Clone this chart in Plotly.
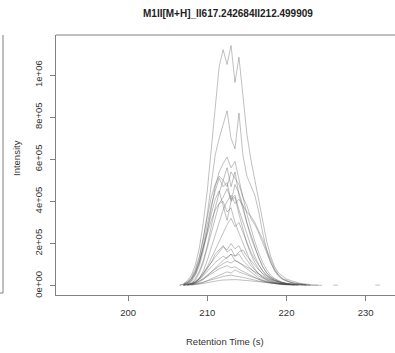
import plotly.graph_objects as go

# ---- data (intensities in thousands) ----
rt = [206.0, 206.5, 207.0, 207.5, 208.0, 208.5, 209.0, 209.5, 210.0, 210.5,
      211.0, 211.5, 212.0, 212.5, 213.0, 213.5, 214.0, 214.5, 215.0, 215.5,
      216.0, 216.5, 217.0, 217.5, 218.0, 218.5, 219.0, 219.5, 220.0, 220.5,
      221.0, 221.5, 222.0, 222.5, 223.0, 223.5, 224.0, 224.5, 225.0]

N = None
s01 = [N, N, 10, 25, 50, 100, 180, 300, 450, 640, 850, 1040, 1120, 1050, 1140, 965, 1085, 900, 720, 600, 500, 400, 300, 210, 140, 90, 60, 45, 32, 25, 18, 14, 10, 8, 6, N, N, N, N]
s02 = [N, N, 5, 15, 35, 70, 130, 220, 340, 480, 620, 700, 760, 830, 700, 650, 820, 620, 520, 470, 430, 350, 250, 170, 110, 70, 45, 30, 22, 16, 12, 9, 7, 5, N, N, N, N, N]
s03 = [N, 3, 8, 20, 40, 80, 140, 230, 330, 420, 480, 520, 500, 560, 470, 540, 430, 360, 290, 230, 180, 130, 90, 60, 40, 28, 20, 14, 10, 7, 5, N, N, N, N, N, N, N, N]
s04 = [N, N, N, 8, 18, 35, 70, 120, 190, 280, 370, 440, 500, 470, 540, 510, 480, 420, 380, 320, 290, 250, 200, 150, 110, 75, 50, 35, 25, 18, 13, 9, 6, 4, N, N, N, N, N]
s05 = [N, N, 4, 10, 25, 55, 110, 190, 290, 380, 450, 510, 470, 490, 400, 420, 340, 270, 200, 150, 110, 80, 55, 38, 26, 18, 12, 8, 5, N, N, N, N, N, N, N, N, N, N]
s06 = [N, N, 6, 14, 30, 60, 110, 180, 260, 340, 410, 450, 380, 310, 400, 480, 440, 380, 300, 240, 180, 130, 90, 62, 42, 30, 21, 15, 11, 8, 6, 4, N, N, N, N, N, N, N]
s07 = [N, N, N, 5, 12, 28, 60, 110, 180, 260, 330, 390, 420, 460, 410, 430, 360, 300, 240, 190, 140, 100, 70, 48, 33, 22, 15, 10, 7, 5, N, N, N, N, N, N, N, N, N]
s08 = [N, N, N, N, 6, 15, 35, 70, 120, 180, 250, 310, 360, 400, 430, 390, 410, 380, 350, 330, 300, 260, 220, 170, 120, 80, 50, 32, 22, 15, 10, 7, 5, N, N, N, N, N, N]
s09 = [N, 2, 6, 15, 32, 65, 115, 180, 250, 310, 360, 390, 400, 350, 370, 300, 250, 200, 150, 110, 80, 56, 40, 28, 20, 14, 10, 7, 5, N, N, N, N, N, N, N, N, N, N]
s10 = [N, N, 3, 6, 12, 22, 38, 60, 85, 110, 140, 160, 185, 170, 200, 175, 190, 150, 120, 95, 75, 55, 40, 30, 22, 16, 12, 9, 7, 5, 4, N, N, N, N, N, N, N, N]
s11 = [N, N, N, 4, 9, 18, 32, 52, 80, 110, 150, 170, 190, 160, 175, 140, 150, 120, 100, 80, 62, 46, 34, 25, 18, 13, 10, 8, 6, 5, 4, 3, N, N, N, N, N, N, N]
s12 = [N, N, N, N, 5, 10, 18, 30, 45, 65, 85, 105, 120, 135, 150, 140, 160, 170, 140, 120, 95, 75, 58, 44, 33, 25, 19, 14, 10, 8, 6, 5, 4, 3, N, N, N, N, N]
s13 = [N, N, 2, 5, 10, 18, 30, 48, 70, 92, 110, 125, 140, 130, 150, 120, 110, 95, 80, 62, 48, 36, 27, 20, 15, 11, 8, 6, 5, 4, N, N, N, N, N, N, N, N, N]
s14 = [N, N, N, 3, 7, 13, 22, 35, 50, 66, 80, 95, 105, 115, 108, 120, 110, 100, 90, 78, 66, 55, 45, 36, 28, 22, 17, 13, 10, 8, 7, 6, 5, 4, 4, 3, 3, N, N]
s15 = [N, N, 2, 4, 8, 14, 22, 32, 45, 58, 70, 80, 88, 95, 85, 90, 78, 68, 58, 48, 38, 30, 23, 18, 14, 11, 9, 7, 6, 5, 4, N, N, N, N, N, N, N, N]
s16 = [N, N, N, N, 3, 6, 10, 16, 24, 33, 42, 50, 58, 66, 60, 75, 65, 58, 50, 42, 35, 28, 22, 17, 13, 10, 8, 6, 5, 4, 3, 3, N, N, N, N, N, N, N]
s17 = [N, N, 1, 3, 5, 8, 12, 17, 23, 29, 35, 40, 44, 48, 50, 46, 44, 40, 35, 30, 26, 22, 18, 15, 12, 10, 8, 7, 6, 5, 4, 4, 3, 3, 2, N, N, N, N]
s18 = [N, N, N, 2, 3, 5, 8, 11, 15, 19, 22, 25, 27, 28, 30, 29, 28, 26, 24, 22, 20, 18, 16, 14, 12, 10, 9, 8, 7, 6, 5, 5, 4, 4, 3, 3, 2, 2, N]
s19 = [N, N, N, 4, 9, 18, 34, 58, 90, 130, 170, 210, 250, 290, 320, 280, 300, 250, 200, 160, 125, 95, 70, 50, 36, 26, 18, 13, 9, 6, 4, N, N, N, N, N, N, N, N]
s20 = [N, N, 4, 10, 24, 50, 95, 165, 260, 370, 470, 540, 580, 610, 560, 590, 500, 420, 340, 270, 210, 155, 110, 75, 50, 34, 23, 16, 11, 8, 5, N, N, N, N, N, N, N, N]

frag1_rt = [225.9, 226.2, 226.5]
frag1_k = [3, 4, 3]
frag2_rt = [231.2, 231.5, 231.8]
frag2_k = [3, 4, 3]

series = [s01, s02, s03, s04, s05, s06, s07, s08, s09, s10,
          s11, s12, s13, s14, s15, s16, s17, s18, s19, s20]

y_tickvals = [0, 200000, 400000, 600000, 800000, 1000000]
y_ticktext = ["0e+00", "2e+05", "4e+05", "6e+05", "8e+05", "1e+06"]
x_tickvals = [200, 210, 220, 230]

title_text = "M1II[M+H]_II617.242684II212.499909"

# ---- figure ----
line_style = dict(color="rgba(70,70,70,0.38)", width=0.9)
fig = go.Figure()
for s in series:
    fig.add_trace(go.Scatter(x=rt, y=[None if v is None else v * 1000 for v in s],
                             mode="lines", line=line_style, connectgaps=False,
                             hoverinfo="skip", showlegend=False))
for fx, fy in [(frag1_rt, frag1_k), (frag2_rt, frag2_k)]:
    fig.add_trace(go.Scatter(x=fx, y=[v * 1000 for v in fy], mode="lines",
                             line=line_style, hoverinfo="skip", showlegend=False))

W, H = 395, 353
L, R, T, B = 56, 0, 35, 58
pw = W - L - R
ph = H - T - B

font = "Liberation Sans, Arial, sans-serif"
axis_col = "#808080"

fig.update_layout(
    width=W, height=H,
    margin=dict(l=L, r=R, t=T, b=B, pad=0),
    paper_bgcolor="white", plot_bgcolor="white",
    font=dict(family=font, size=9.5, color="#333333"),
    xaxis=dict(range=[190.9, 233.7], tickvals=x_tickvals, ticks="outside",
               ticklen=5, tickcolor=axis_col, showline=True, linecolor=axis_col,
               linewidth=1, showgrid=False, zeroline=False, ticklabelstandoff=4,
               tickfont=dict(size=9.5, color="#333333")),
    yaxis=dict(range=[-44000, 1190000], tickvals=y_tickvals, ticktext=y_ticktext,
               tickangle=-90, ticks="outside", ticklen=5, tickcolor=axis_col,
               showline=True, linecolor=axis_col, linewidth=1, showgrid=False,
               zeroline=False, ticklabelstandoff=4,
               tickfont=dict(size=9.5, color="#333333")),
    shapes=[
        dict(type="line", xref="paper", yref="paper", x0=0, x1=1, y0=1, y1=1,
             line=dict(color=axis_col, width=1)),
        dict(type="line", xref="paper", yref="paper",
             x0=(3 - L) / pw, x1=(3 - L) / pw, y0=(H - B - 293) / ph, y1=1,
             line=dict(color=axis_col, width=1)),
        dict(type="line", xref="paper", yref="paper",
             x0=(0 - L) / pw, x1=(3 - L) / pw, y0=(H - B - 293) / ph, y1=(H - B - 293) / ph,
             line=dict(color=axis_col, width=1)),
    ],
    annotations=[
        dict(text="<b>" + title_text + "</b>", xref="paper", yref="paper",
             x=(228 - L) / pw, y=1 + (T - 13) / ph, xanchor="center", yanchor="middle",
             showarrow=False, font=dict(size=10, color="#222222")),
        dict(text="Retention Time (s)", xref="paper", yref="paper",
             x=(225 - L) / pw, y=-(341 - (H - B)) / ph, xanchor="center", yanchor="middle",
             showarrow=False, font=dict(size=9.5, color="#333333")),
        dict(text="Intensity", xref="paper", yref="paper", textangle=-90,
             x=(16 - L) / pw, y=(H - B - 158) / ph, xanchor="center", yanchor="middle",
             showarrow=False, font=dict(size=9.5, color="#333333")),
    ],
)

fig.write_html("out.html")
